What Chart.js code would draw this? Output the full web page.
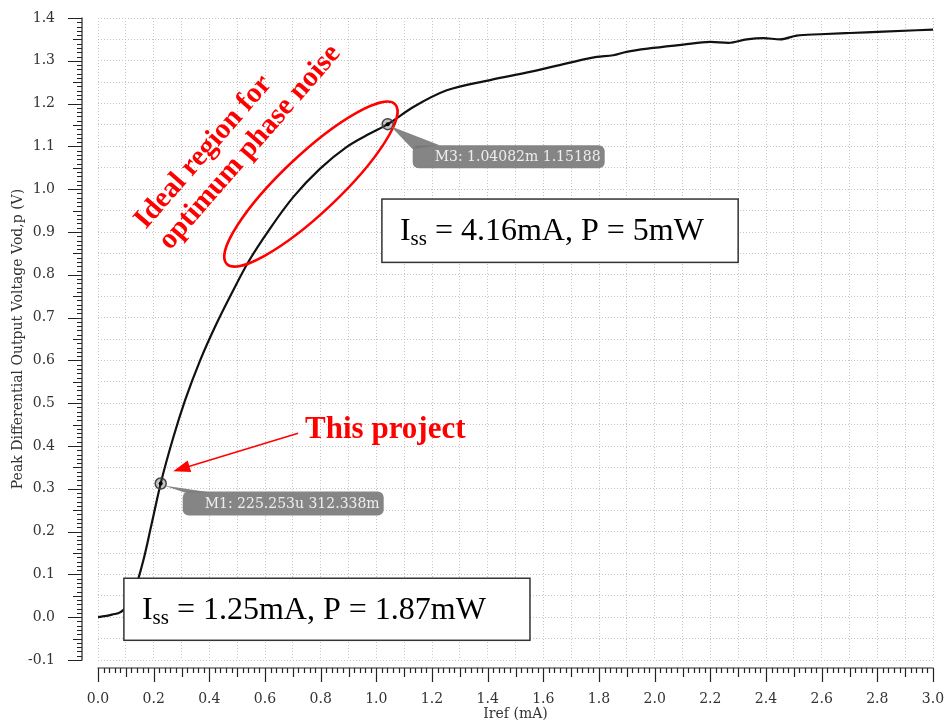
<!DOCTYPE html>
<html>
<head>
<meta charset="utf-8">
<script src="https://cdn.jsdelivr.net/npm/chart.js@4.4.1/dist/chart.umd.min.js"></script>
<style>
    html, body { margin: 0; padding: 0; background: #ffffff; }
    #chart { display: block; }
</style>
</head>
<body>
<canvas id="chart" width="948" height="725"></canvas>
<script>
// 데이터: Iref (mA) 대 Vod,p (V)
const irefMA = [0, 0.05, 0.09, 0.13, 0.163, 0.19, 0.225, 0.271, 0.313, 0.367, 0.426, 0.486, 0.54,
    0.618, 0.702, 0.798, 0.894, 0.977, 1.041, 1.133, 1.253, 1.409, 1.552, 1.684, 1.792, 1.851,
    1.899, 1.995, 2.103, 2.199, 2.265, 2.331, 2.391, 2.451, 2.51, 2.594, 2.702, 2.822, 3.0];
const vodV = [0, 0.006, 0.016, 0.06, 0.133, 0.21, 0.312, 0.421, 0.507, 0.6, 0.686, 0.764, 0.83,
    0.908, 0.982, 1.048, 1.099, 1.13, 1.152, 1.192, 1.231, 1.255, 1.274, 1.294, 1.309, 1.313,
    1.321, 1.33, 1.338, 1.344, 1.342, 1.35, 1.353, 1.35, 1.359, 1.362, 1.365, 1.368, 1.373];

// 눈금 라벨
const xTickLabels = ['0.0', '0.2', '0.4', '0.6', '0.8', '1.0', '1.2', '1.4', '1.6', '1.8',
    '2.0', '2.2', '2.4', '2.6', '2.8', '3.0'];
const yTickLabels = ['-0.1', '0.0', '0.1', '0.2', '0.3', '0.4', '0.5', '0.6', '0.7', '0.8',
    '0.9', '1.0', '1.1', '1.2', '1.3', '1.4'];

// 마커
const markerIref = [0.225253, 1.04082];
const markerVod = [0.312338, 1.15188];
const markerTexts = ['M1: 225.253u 312.338m', 'M3: 1.04082m 1.15188'];

// 주석 박스 (데이터 좌표)
const boxMain = ['4.16mA, P = 5mW', '1.25mA, P = 1.87mW'];
const boxLeft = [1.020, 0.093];
const boxRight = [2.300, 1.552];
const boxTop = [0.977, 0.091];
const boxBottom = [0.829, -0.054];

const AXIS_FONT = '"DejaVu Serif", serif';
const NOTE_FONT = '"Liberation Serif", "Times New Roman", serif';

// 마커 라벨 위치 (px 오프셋)
const markerLabelStyle = [
    { dx: 22, dy: 8, w: 201, h: 24, tip: [[24, 9], [50, 9]] },
    { dx: 25, dy: 21, w: 192, h: 23, tip: [[25, 25], [52, 21]] }
];

function drawRulers(chart) {
    const { ctx, chartArea, scales: { x, y } } = chart;
    ctx.save();
    ctx.strokeStyle = '#222222';
    ctx.lineWidth = 1.2;

    // 세로 눈금자
    const rx = chartArea.left - 16;
    ctx.beginPath();
    ctx.moveTo(rx, y.getPixelForValue(y.max) - 0.5);
    ctx.lineTo(rx, y.getPixelForValue(y.min) + 0.5);
    for (let i = 0; i <= 150; i++) {
        const py = Math.round(y.getPixelForValue(y.min + i * 0.01)) + 0.5;
        const len = i % 10 === 0 ? 14 : (i % 5 === 0 ? 9 : 5);
        ctx.moveTo(rx, py);
        ctx.lineTo(rx - len, py);
    }
    ctx.stroke();

    // 가로 눈금자
    const ry = chartArea.bottom + 8;
    ctx.beginPath();
    ctx.moveTo(x.getPixelForValue(x.min) - 0.5, ry);
    ctx.lineTo(x.getPixelForValue(x.max) + 0.5, ry);
    for (let i = 0; i <= 150; i++) {
        const px = Math.round(x.getPixelForValue(x.min + i * 0.02)) + 0.5;
        const len = i % 10 === 0 ? 14 : (i % 5 === 0 ? 9 : 5);
        ctx.moveTo(px, ry);
        ctx.lineTo(px, ry + len);
    }
    ctx.stroke();
    ctx.restore();
}

function drawNotes(chart) {
    const { ctx, scales: { x, y } } = chart;
    ctx.save();

    // 빨간 타원
    ctx.strokeStyle = '#ff0000';
    ctx.lineWidth = 2.5;
    ctx.beginPath();
    ctx.ellipse(x.getPixelForValue(0.765), y.getPixelForValue(1.012), 116, 29,
        -43.4 * Math.PI / 180, 0, Math.PI * 2);
    ctx.stroke();

    // 회전된 텍스트
    ctx.fillStyle = '#ff0000';
    ctx.font = 'bold 29px ' + NOTE_FONT;
    ctx.textBaseline = 'alphabetic';
    ctx.textAlign = 'left';
    ctx.save();
    ctx.translate(x.getPixelForValue(0.172), y.getPixelForValue(0.905));
    ctx.rotate(-49 * Math.PI / 180);
    ctx.fillText('Ideal region for', 0, 0);
    ctx.fillText('optimum phase noise', 0, 32);
    ctx.restore();

    // This project + 화살표
    ctx.font = 'bold 31px ' + NOTE_FONT;
    ctx.fillText('This project', x.getPixelForValue(0.744), y.getPixelForValue(0.418));
    const ax0 = x.getPixelForValue(0.719), ay0 = y.getPixelForValue(0.430);
    const ax1 = x.getPixelForValue(0.270), ay1 = y.getPixelForValue(0.341);
    const ang = Math.atan2(ay1 - ay0, ax1 - ax0);
    ctx.lineWidth = 1.5;
    ctx.beginPath();
    ctx.moveTo(ax0, ay0);
    ctx.lineTo(ax1 - 12 * Math.cos(ang), ay1 - 12 * Math.sin(ang));
    ctx.stroke();
    ctx.beginPath();
    ctx.moveTo(ax1, ay1);
    ctx.lineTo(ax1 - 17 * Math.cos(ang) + 6 * Math.sin(ang), ay1 - 17 * Math.sin(ang) - 6 * Math.cos(ang));
    ctx.lineTo(ax1 - 17 * Math.cos(ang) - 6 * Math.sin(ang), ay1 - 17 * Math.sin(ang) + 6 * Math.cos(ang));
    ctx.closePath();
    ctx.fill();

    // 박스
    boxMain.forEach((txt, i) => {
        const l = x.getPixelForValue(boxLeft[i]), r = x.getPixelForValue(boxRight[i]);
        const t = y.getPixelForValue(boxTop[i]), b = y.getPixelForValue(boxBottom[i]);
        ctx.fillStyle = '#ffffff';
        ctx.fillRect(l, t, r - l, b - t);
        ctx.strokeStyle = '#333333';
        ctx.lineWidth = 1.5;
        ctx.strokeRect(l, t, r - l, b - t);

        const big = '32px ' + NOTE_FONT, small = '21px ' + NOTE_FONT;
        const rest = ' = ' + txt;
        ctx.font = big;
        const wI = ctx.measureText('I').width;
        ctx.font = small;
        const wS = ctx.measureText('ss').width;
        const tx = l + 18;
        const base = t + 41;
        ctx.fillStyle = '#000000';
        ctx.font = big;
        ctx.fillText('I', tx, base);
        ctx.font = small;
        ctx.fillText('ss', tx + wI, base + 5);
        ctx.font = big;
        ctx.fillText(rest, tx + wI + wS, base);
    });

    // 마커 라벨
    markerTexts.forEach((txt, i) => {
        const mx = x.getPixelForValue(markerIref[i]), my = y.getPixelForValue(markerVod[i]);
        const s = markerLabelStyle[i];
        ctx.fillStyle = 'rgba(120, 120, 120, 0.9)';
        ctx.beginPath();
        ctx.moveTo(mx + 3, my + 2);
        ctx.lineTo(mx + s.tip[0][0], my + s.tip[0][1]);
        ctx.lineTo(mx + s.tip[1][0], my + s.tip[1][1]);
        ctx.closePath();
        ctx.fill();
        ctx.beginPath();
        ctx.roundRect(mx + s.dx, my + s.dy, s.w, s.h, 6);
        ctx.fill();
        ctx.fillStyle = '#eeeeee';
        ctx.font = '14px ' + AXIS_FONT;
        ctx.textBaseline = 'middle';
        ctx.fillText(txt, mx + s.dx + 22, my + s.dy + s.h / 2 + 1);
        ctx.textBaseline = 'alphabetic';
    });

    ctx.restore();
}

const overlayPlugin = {
    id: 'overlay',
    beforeDatasetsDraw(chart) { drawRulers(chart); },
    afterDatasetsDraw(chart) { drawNotes(chart); }
};

const dottedGrid = {
    color: '#c4c4c4',
    lineWidth: 1,
    drawTicks: false
};

new Chart(document.getElementById('chart'), {
    type: 'scatter',
    data: {
        datasets: [
            {
                label: 'Vod,p',
                data: irefMA.map((v, i) => ({ x: v, y: vodV[i] })),
                showLine: true,
                borderColor: '#111111',
                borderWidth: 2.2,
                pointRadius: 0,
                cubicInterpolationMode: 'monotone',
                order: 3
            },
            {
                label: 'markers',
                data: markerIref.map((v, i) => ({ x: v, y: markerVod[i] })),
                pointRadius: 5.5,
                backgroundColor: 'rgba(60, 60, 60, 0.3)',
                borderColor: '#444444',
                borderWidth: 1.5,
                order: 2
            },
            {
                label: 'marker dots',
                data: markerIref.map((v, i) => ({ x: v, y: markerVod[i] })),
                pointRadius: 2,
                backgroundColor: '#000000',
                borderWidth: 0,
                order: 1
            }
        ]
    },
    options: {
        responsive: false,
        animation: false,
        layout: { padding: { top: 18, right: 15, left: 0, bottom: 0 } },
        plugins: {
            legend: { display: false },
            tooltip: { enabled: false }
        },
        scales: {
            x: {
                type: 'linear',
                min: 0,
                max: 3,
                // 라벨 padding이 플롯 영역을 줄이지 않도록
                afterFit: (scale) => {
                    scale.height = 65;
                    scale.paddingLeft = 0;
                    scale.paddingRight = 12;
                },
                border: { display: false, dash: [1, 2] },
                grid: dottedGrid,
                ticks: {
                    stepSize: 0.1,
                    padding: 31,
                    maxRotation: 0,
                    autoSkip: false,
                    color: '#333333',
                    font: { family: AXIS_FONT, size: 14 },
                    callback: (value) => xTickLabels.includes(value.toFixed(1)) &&
                        Math.round(value * 10) % 2 === 0 ? value.toFixed(1) : ''
                },
                title: {
                    display: true,
                    text: 'Iref (mA)',
                    color: '#333333',
                    font: { family: AXIS_FONT, size: 14 },
                    padding: { top: 0, bottom: 2 }
                }
            },
            y: {
                type: 'linear',
                min: -0.1,
                max: 1.4,
                afterFit: (scale) => {
                    scale.width = 98;
                    scale.paddingTop = 9;
                    scale.paddingBottom = 9;
                },
                border: { display: false, dash: [1, 2] },
                grid: dottedGrid,
                ticks: {
                    stepSize: 0.05,
                    padding: 43,
                    autoSkip: false,
                    color: '#333333',
                    font: { family: AXIS_FONT, size: 14 },
                    callback: (value) => Math.round(value * 20) % 2 === 0 &&
                        yTickLabels.includes(value.toFixed(1)) ? value.toFixed(1) : ''
                },
                title: {
                    display: true,
                    text: 'Peak Differential Output Voltage Vod,p (V)',
                    color: '#333333',
                    font: { family: AXIS_FONT, size: 14 },
                    padding: { top: 10, bottom: 0 }
                }
            }
        }
    },
    plugins: [overlayPlugin]
});
</script>
</body>
</html>
